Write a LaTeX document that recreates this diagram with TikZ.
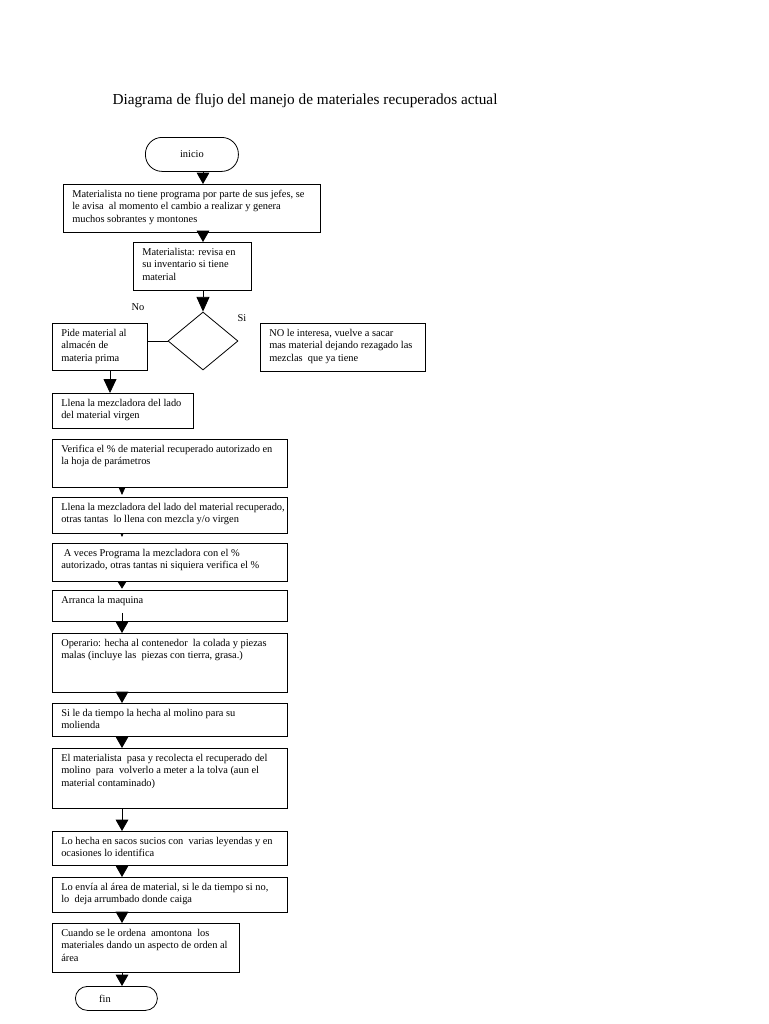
\documentclass[tikz,border=0pt]{standalone}
\usepackage{fontspec}
\setmainfont{Liberation Serif}
\usetikzlibrary{arrows.meta,shapes.geometric,calc}

\tikzset{
    caja/.style={draw, line width=0.6pt, inner sep=0pt, anchor=north west},
    texto/.style={inner sep=0pt, anchor=north west, align=left, font=\fontsize{7.8}{9.2}\selectfont},
    terminal/.style={draw, line width=0.6pt, inner sep=0pt, anchor=north west, font=\fontsize{7.8}{9.2}\selectfont},
    flecha/.style={line width=0.6pt, -{Triangle[width=9.5pt,length=8.5pt]}},
}

% box with its text in the upper left corner
\newcommand{\paso}[6]{%
    \node [caja, minimum width=#4*0.75pt, minimum height=#5*0.75pt] (#1) at (#2,#3) {};
    \node [texto] (#1t) at ([xshift=6.75pt, yshift=-4.5pt]#1.north west) {#6};
}

\begin{document}
\begin{tikzpicture}[x=0.75pt, y=-0.75pt]
    \useasboundingbox (0,0) rectangle (768,1024);

    % title
    \node [font=\fontsize{11.45}{13}\selectfont] (titulo) at (305,101)
        {Diagrama de flujo del manejo de materiales recuperados actual};

    % start, decision and end
    \node [terminal, rounded corners=12.5pt, minimum width=93*0.75pt, minimum height=34*0.75pt]
        (inicio) at (145,137) {inicio};
    \node [draw, line width=0.6pt, diamond, inner sep=0pt, minimum width=70*0.75pt, minimum height=58*0.75pt]
        (dec) at (203,341) {};
    \node [terminal, rounded corners=9pt, minimum width=82*0.75pt, minimum height=24*0.75pt]
        (fin) at (75,986) {};
    \node [texto, anchor=center] (fint) at ([xshift=-8.6pt]fin.center) {fin};
    \node [font=\fontsize{7.8}{9.2}\selectfont] (no) at (138,307) {No};
    \node [font=\fontsize{7.8}{9.2}\selectfont] (si) at (242,318) {Si};

    % boxes
    \paso{caja1}{63}{184}{257}{48}{Materialista no tiene programa por parte de sus jefes, se\\
        le avisa \ al momento el cambio a realizar y genera\\ muchos sobrantes y montones}
    \paso{caja2}{133}{242}{118}{48}{Materialista: revisa en\\ su inventario si tiene\\ material}
    \paso{pide}{52}{323}{95}{47}{Pide material al\\ almacén de\\ materia prima}
    \paso{nole}{260}{323}{165}{48}{NO le interesa, vuelve a sacar\\
        mas material dejando rezagado las\\ mezclas \ que ya tiene}
    \paso{virgen}{52}{393}{141}{35}{Llena la mezcladora del lado\\ del material virgen}
    \paso{verif}{52}{439}{235}{48}{Verifica el \% de material recuperado autorizado en\\
        la hoja de parámetros}
    \paso{recup}{52}{497}{235}{36}{Llena la mezcladora del lado del material recuperado,\\
        otras tantas \ lo llena con mezcla y/o virgen}
    \paso{aveces}{52}{543}{235}{38}{\ A veces Programa la mezcladora con el \%\\
        autorizado, otras tantas ni siquiera verifica el \%}
    \paso{arranca}{52}{590}{235}{31}{Arranca la maquina}
    \paso{operario}{52}{633}{235}{59}{Operario: hecha al contenedor \ la colada y piezas\\
        malas (incluye las \ piezas con tierra, grasa.)}
    \paso{sile}{52}{703}{235}{33}{Si le da tiempo la hecha al molino para su\\ molienda}
    \paso{elmat}{52}{748}{235}{60}{El materialista \ pasa y recolecta el recuperado del\\
        molino \ para \ volverlo a meter a la tolva (aun el\\ material contaminado)}
    \paso{sacos}{52}{831}{235}{34}{Lo hecha en sacos sucios con \ varias leyendas y en\\
        ocasiones lo identifica}
    \paso{envia}{52}{877}{235}{35}{Lo envía al área de material, si le da tiempo si no,\\
        lo \ deja arrumbado donde caiga}
    \paso{cuando}{52}{923}{187}{49}{Cuando se le ordena \ amontona \ los\\
        materiales dando un aspecto de orden al\\ área}

    % arrows
    \coordinate (ejeB) at (122,0);
    \coordinate (ejeC) at (110,0);
    \draw [flecha] (inicio.south -| dec) -- (caja1.north -| dec);
    \draw [flecha] (caja1.south -| dec) -- (caja2.north -| dec);
    \draw [flecha, -{Triangle[width=9.75pt,length=11pt]}] (caja2.south -| dec) -- (dec.north);
    \draw [line width=0.6pt] (dec.west) -- (dec.west -| pide.east);
    \draw [flecha, -{Triangle[width=9.75pt,length=10.5pt]}] (pide.south -| ejeC) -- (virgen.north -| ejeC);
    \draw [flecha, -{Triangle[width=5.25pt,length=6pt]}, shorten >=1.5pt] (verif.south -| ejeB) -- (recup.north -| ejeB);
    \draw [line width=0.4pt, -{Triangle[width=2.5pt,length=3pt]}, shorten >=4.5pt] (recup.south -| ejeB) -- (aveces.north -| ejeB);
    \draw [flecha, -{Triangle[width=6.75pt,length=5.5pt]}, shorten >=1pt] (aveces.south -| ejeB) -- (arranca.north -| ejeB);
    \draw [flecha] ($(arranca.south -| ejeB)+(0,-9)$) -- (operario.north -| ejeB);
    \foreach \a/\b in {operario/sile, sile/elmat, elmat/sacos, sacos/envia, envia/cuando, cuando/fin}
        \draw [flecha] (\a.south -| ejeB) -- (\b.north -| ejeB);
\end{tikzpicture}
\end{document}
